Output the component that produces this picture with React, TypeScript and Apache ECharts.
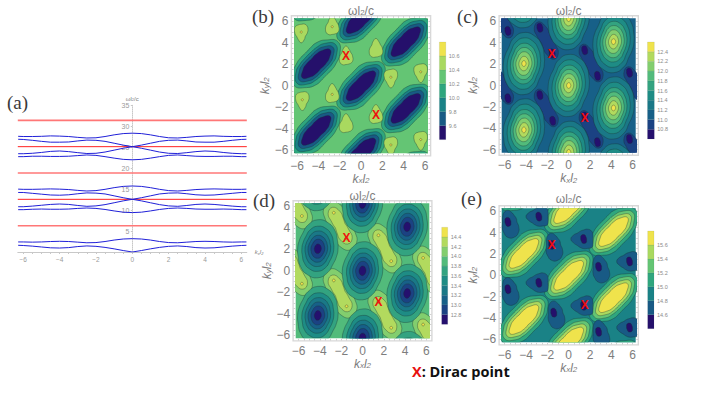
import React, { useEffect, useRef } from "react";
import * as echarts from "echarts";

// ---------- panel (a): dispersion curves ----------
const halfK = [0, 0.5, 1, 1.5, 2, 2.5, 3, 3.5, 4, 4.5, 5, 5.5, 6, 6.28];
const bandCurves = [
  [0, 0.35, 0.75, 1.1, 1.35, 1.45, 1.3, 1.05, 0.95, 1.0, 1.2, 1.4, 1.55, 1.6],
  [3.18, 3.1, 2.85, 2.5, 2.25, 2.2, 2.35, 2.5, 2.55, 2.5, 2.4, 2.35, 2.4, 2.4],
  [9.4, 9.5, 9.8, 10.15, 10.4, 10.5, 10.4, 10.25, 10.2, 10.2, 10.25, 10.2, 10.1, 10.1],
  [12.57, 12.2, 11.75, 11.3, 11.0, 10.9, 11.1, 11.35, 11.45, 11.35, 11.15, 10.95, 10.8, 10.8],
  [12.57, 12.95, 13.4, 13.85, 14.05, 14.1, 13.9, 13.65, 13.55, 13.6, 13.8, 14.0, 14.2, 14.2],
  [15.75, 15.65, 15.35, 14.95, 14.65, 14.55, 14.7, 14.9, 15.0, 15.05, 15.0, 14.95, 14.95, 15.0],
  [22, 22.1, 22.4, 22.75, 23.05, 23.15, 23, 22.85, 22.8, 22.8, 22.85, 22.85, 22.75, 22.75],
  [25.13, 24.75, 24.3, 23.85, 23.55, 23.5, 23.7, 23.95, 24.1, 24.0, 23.75, 23.55, 23.45, 23.45],
  [25.13, 25.5, 25.95, 26.4, 26.65, 26.7, 26.5, 26.25, 26.2, 26.2, 26.4, 26.65, 26.85, 26.9],
  [28.35, 28.25, 27.95, 27.55, 27.25, 27.2, 27.35, 27.55, 27.65, 27.7, 27.6, 27.55, 27.55, 27.6],
];
const redLevels = [6.28, 12.57, 18.85, 25.13, 31.4];
const redWidths = [1.6, 1, 1.6, 1, 1.6];
const redColors = ["#f77", "#f22", "#f77", "#f22", "#f77"];
const kTicks = [-6, -4, -2, 0, 2, 4, 6];
const kMinor = [-6, -5.5, -5, -4.5, -4, -3.5, -3, -2.5, -2, -1.5, -1, -0.5, 0, 0.5, 1, 1.5, 2, 2.5, 3, 3.5, 4, 4.5, 5, 5.5, 6];

// ---------- contour colour levels ----------
const levels7 = ["#25106b", "#185a85", "#1a8286", "#2fa67e", "#64c574", "#a9d95f", "#efe34c"];
const levels10 = ["#25106e", "#1b4283", "#176088", "#1a7887", "#1e8c85", "#33a380", "#52bb7b", "#82ce6e", "#b2da5e", "#efe34c"];

// ---------- shared feature positions (kx, ky) ----------
const blobCenters = [[0, 0], [0, 6.25], [0, -6.25], [-4.2, 2.05], [4.2, 4.1], [4.2, -2.1], [-4.2, -4.15], [-4.2, 8.3], [4.2, -8.35]];
const bandCenters = [[-6.3, 6.2], [-2.1, 4.2], [2.1, 2.1], [6.3, 0], [-6.3, 0], [-2.1, -2.1], [2.1, -4.1], [6.3, -6.2]];
const lobes = [[-5.7, 5.1], [-2.7, 5.4], [-1.55, 3], [1.5, 3.3], [2.7, 0.9], [5.7, 1.2], [-5.7, -1.2], [-2.7, -0.9], [-1.5, -3.3], [1.5, -2.9], [2.7, -5.3], [5.7, -5]];

// ---------- contour outlines: radii at 22.5 degree steps around a centre ----------
const lensOuter = [1.85, 2.4, 2.9, 2.4, 1.95, 1.55, 1.42, 1.55];
const lensMid = [1.5, 2.05, 2.55, 2.05, 1.5, 1.2, 1.12, 1.2];
const lensIn = [1.22, 1.7, 2.2, 1.7, 1.22, 0.95, 0.88, 0.95];
const lensCore = [0.9, 1.32, 1.85, 1.32, 0.9, 0.7, 0.62, 0.7];

const peakC3 = [1.92, 2.05, 2.4, 2.75, 2.9, 2.55, 2.05, 1.92];
const peakC4 = [1.55, 1.66, 1.92, 2.25, 2.4, 2.1, 1.68, 1.55];
const peakC5 = [1.25, 1.33, 1.52, 1.78, 1.9, 1.68, 1.36, 1.25];
const peakC6 = [1.0, 1.05, 1.2, 1.4, 1.5, 1.33, 1.08, 1.0];
const peakC7 = [0.75, 0.78, 0.88, 1.03, 1.1, 0.98, 0.8, 0.75];
const peakC8 = [0.47, 0.49, 0.54, 0.63, 0.68, 0.6, 0.5, 0.47];
const peakC9 = [0.2, 0.2, 0.22, 0.25, 0.27, 0.25, 0.21, 0.2];

const wellD5 = [1.9, 2.0, 2.32, 2.6, 2.7, 2.4, 2.02, 1.9];
const wellD4 = [1.5, 1.58, 1.82, 2.03, 2.1, 1.9, 1.6, 1.5];
const wellD3 = [1.2, 1.25, 1.42, 1.6, 1.65, 1.5, 1.27, 1.2];
const wellD2 = [0.92, 0.96, 1.07, 1.2, 1.25, 1.13, 0.97, 0.92];
const wellD1 = [0.65, 0.67, 0.75, 0.85, 0.88, 0.8, 0.68, 0.65];
const wellD0 = [0.33, 0.34, 0.38, 0.43, 0.45, 0.41, 0.35, 0.33];

const pocketC = [0.62, 0.52, 0.55, 0.75, 1.25, 1.9, 1.6, 0.9];
const dotC = [0.28, 0.28, 0.3, 0.38, 0.42, 0.42, 0.38, 0.3];
const ridgeOuter = [1.05, 0.9, 0.95, 1.3, 1.95, 2.45, 2.2, 1.5];
const ridgeInner = [0.6, 0.5, 0.55, 0.75, 1.3, 1.85, 1.6, 0.85];
const tinyDot = [0.13, 0.13, 0.13, 0.13, 0.13, 0.13, 0.13, 0.13];
const yellowDot = [0.1, 0.1, 0.1, 0.1, 0.1, 0.1, 0.1, 0.1];

const lumpUp = [0.62, 0.6, 0.6, 0.75, 1.0, 0.75, 0.55, 0.55, 0.6, 0.68, 0.78, 0.8, 0.72, 0.72, 0.75, 0.7];
const lumpDown = [0.6, 0.68, 0.78, 0.8, 0.72, 0.72, 0.75, 0.7, 0.62, 0.6, 0.6, 0.75, 1.0, 0.75, 0.55, 0.55];
const lumpUpAt = [[-2.7, 5.5], [-1.4, 2.7], [-2.7, -0.8], [1.4, -2.75], [1.4, 3.4], [-1.4, -3.6]];
const lumpDownAt = [[2.8, 0.8], [5.6, 1.3], [-5.6, 5], [-5.5, -1.3], [5.6, -5], [2.8, -5.5]];
const lumpDotsAt = [[-5.6, 5], [-2.7, 5.5], [-1.4, 2.7], [2.8, 0.8], [5.6, 1.3], [-5.5, -1.3], [-2.7, -0.8], [1.4, -2.75], [2.8, -5.5], [5.6, -5]];

const triSide = [0.85, 0.85, 0.85, 0.95, 1.1, 0.95, 0.7, 0.55, 0.5, 0.55, 0.75, 1.05, 1.45, 1.55, 1.4, 1.1];
const triFlat = [0.85, 0.95, 1.05, 1.0, 0.85, 0.8, 0.8, 1.0, 1.2, 1.0, 0.85, 0.85, 0.9, 0.95, 1.1, 0.95];
const triSideAt = [[-1.6, 2.85], [-5.7, 5], [-5.7, -1.3], [-1.4, -3.5], [2.8, 0.8], [2.8, -5.3]];
const triFlatAt = [[-2.8, 5.5], [-2.8, -0.7], [1.4, 3.4], [1.4, -2.85], [5.7, 1.3], [5.7, -4.9]];
const triDotsAt = [[-1.6, 2.85], [-5.7, 5], [-5.7, -1.3], [-1.4, -3.5], [2.8, 0.8], [2.8, -5.3], [-2.8, 5.5], [-2.8, -0.7], [1.4, 3.4], [1.4, -2.85], [5.7, 1.3], [5.7, -4.9]];

// ---------- Dirac points ----------
const diracB = [[-1.4, 2.75], [1.4, -2.75]];
const diracC = [[-1.6, 2.97], [1.5, -3.0]];
const diracD = [[-1.5, 3.03], [1.5, -2.9]];
const diracE = [[-1.6, 2.87], [1.5, -2.8]];

// ---------- colour-bar scales ----------
const barB = { min: 9.4, labels: [9.6, 9.8, 10.0, 10.2, 10.4, 10.6] };
const barC = { min: 10.6, labels: [10.8, 11.0, 11.2, 11.4, 11.6, 11.8, 12.0, 12.2, 12.4] };
const barD = { min: 12.6, labels: [12.8, 13.0, 13.2, 13.4, 13.6, 13.8, 14.0, 14.2, 14.4] };
const barE = { min: 14.4, labels: [14.6, 14.8, 15.0, 15.2, 15.4, 15.6] };

const ringOf = (h: number[]) => (h.length === 8 ? [...h, ...h] : h);
type Layer = [number[][], number, number[]];

const layersB: Layer[] = [
  [blobCenters, 3, lensOuter], [blobCenters, 2, lensMid], [blobCenters, 1, lensIn], [blobCenters, 0, lensCore],
  [lumpUpAt, 5, lumpUp], [lumpDownAt, 5, lumpDown], [lumpDotsAt, 6, yellowDot],
];
const layersC: Layer[] = [
  [bandCenters, 1, pocketC], [lobes, 0, dotC],
  [blobCenters, 3, peakC3], [blobCenters, 4, peakC4], [blobCenters, 5, peakC5], [blobCenters, 6, peakC6],
  [blobCenters, 7, peakC7], [blobCenters, 8, peakC8], [blobCenters, 9, peakC9],
];
const layersD: Layer[] = [
  [bandCenters, 7, ridgeOuter], [bandCenters, 8, ridgeInner], [lobes, 9, tinyDot],
  [blobCenters, 5, wellD5], [blobCenters, 4, wellD4], [blobCenters, 3, wellD3], [blobCenters, 2, wellD2],
  [blobCenters, 1, wellD1], [blobCenters, 0, wellD0],
];
const layersE: Layer[] = [
  [blobCenters, 3, lensOuter], [blobCenters, 4, lensMid], [blobCenters, 5, lensIn], [blobCenters, 6, lensCore],
  [triSideAt, 1, triSide], [triFlatAt, 1, triFlat], [triDotsAt, 0, dotC],
];

const contourLine = "rgba(25,50,50,0.5)";
const greyText = "#7d7d7d";
const sans = "Liberation Sans";

const richK = (big: number, small: number) => ({
  i: { fontFamily: sans, fontStyle: "italic", fontSize: big, color: greyText, lineHeight: big, verticalAlign: "top" },
  s: { fontFamily: sans, fontStyle: "italic", fontSize: small, color: greyText, lineHeight: big, verticalAlign: "bottom", height: small },
  u: { fontFamily: sans, fontSize: small, color: greyText, lineHeight: big, verticalAlign: "bottom", height: small },
  o: { fontFamily: sans, fontSize: big, color: greyText, lineHeight: big, verticalAlign: "top" },
});
const minusFmt = (v: number) => (v < 0 ? "\u2212" + -v : String(v));

function buildOption() {
  const grid: any[] = [];
  const xAxis: any[] = [];
  const yAxis: any[] = [];
  const series: any[] = [];
  const graphic: any[] = [];

  // panel (a)
  grid.push({ left: 17.8, top: 105.3, width: 229, height: 146.7 });
  xAxis.push({
    gridIndex: 0, type: "value", min: -6.3, max: 6.3,
    name: "{i|k}{s|x}{i|l}{s|2}", nameLocation: "end", nameGap: 8,
    nameTextStyle: { rich: richK(6, 4) },
    axisLine: { show: true, onZero: false, lineStyle: { color: "#c8c8c8", width: 1 } },
    axisTick: { show: true, length: 2, lineStyle: { color: "#c8c8c8" }, customValues: kMinor },
    axisLabel: { color: "#9a9a9a", fontSize: 6.5, fontFamily: sans, margin: 4, customValues: kTicks, formatter: minusFmt },
    splitLine: { show: false },
  });
  yAxis.push({
    gridIndex: 0, type: "value", min: 0, max: 35, interval: 5,
    name: "{o|\u03c9l}{u|2}{o|/c}", nameLocation: "end", nameGap: 3,
    nameTextStyle: { rich: richK(6, 4) },
    axisLine: { show: true, onZero: true, lineStyle: { color: "#c8c8c8", width: 1, type: "dotted" } },
    axisTick: { show: true, length: 1.5, lineStyle: { color: "#c8c8c8" } },
    axisLabel: { color: "#9a9a9a", fontSize: 7, fontFamily: sans, margin: -111.5, showMaxLabel: true, showMinLabel: false },
    splitLine: { show: false },
  });
  redLevels.forEach((v, i) =>
    series.push({
      type: "line", xAxisIndex: 0, yAxisIndex: 0, showSymbol: false, silent: true,
      data: [[-6.3, v], [6.3, v]],
      lineStyle: { color: redColors[i], width: redWidths[i] },
    }),
  );
  bandCurves.forEach((curve) => {
    const data: number[][] = [];
    for (let i = halfK.length - 1; i > 0; i--) data.push([-halfK[i], curve[i]]);
    for (let i = 0; i < halfK.length; i++) data.push([halfK[i], curve[i]]);
    series.push({
      type: "line", xAxisIndex: 0, yAxisIndex: 0, showSymbol: false, silent: true,
      data, lineStyle: { color: "#2020d8", width: 1 },
    });
  });

  // contour panels
  const panels = [
    { left: 294, top: 18.3, w: 134, h: 135, palette: levels7, bg: 4, layers: layersB, dirac: diracB, bar: barB, barRect: [439.4, 42, 6.4, 97.6], titleGap: -1 },
    { left: 501.7, top: 18.3, w: 134, h: 134.4, palette: levels10, bg: 2, layers: layersC, dirac: diracC, bar: barC, barRect: [647.5, 42, 6.8, 97], titleGap: -1 },
    { left: 295.7, top: 203.3, w: 133.6, h: 135, palette: levels10, bg: 6, layers: layersD, dirac: diracD, bar: barD, barRect: [441.7, 227.3, 6, 97], titleGap: -1 },
    { left: 501.7, top: 208.3, w: 134, h: 134, palette: levels7, bg: 2, layers: layersE, dirac: diracE, bar: barE, barRect: [647.7, 231, 6.3, 97.7], titleGap: 1 },
  ];

  panels.forEach((p) => {
    const gi = grid.length;
    grid.push({ left: p.left, top: p.top, width: p.w, height: p.h, show: true, backgroundColor: p.palette[p.bg], borderWidth: 0 });
    const xi = xAxis.length;
    const yi = yAxis.length;
    const tick = { show: true, inside: true, length: 2, lineStyle: { color: "#bdbdbd", width: 0.7 }, customValues: kMinor };
    xAxis.push({
      gridIndex: gi, type: "value", min: -6.28, max: 6.28, position: "bottom", offset: 2.5,
      name: "{i|k}{s|x}{i|l}{s|2}", nameLocation: "middle", nameGap: 16,
      nameTextStyle: { rich: richK(12, 8) },
      axisLine: { show: false, onZero: false }, axisTick: tick, splitLine: { show: false },
      axisLabel: { color: greyText, fontSize: 12, fontFamily: sans, margin: 4, customValues: kTicks, formatter: minusFmt, hideOverlap: false },
    });
    xAxis.push({
      gridIndex: gi, type: "value", min: -6.28, max: 6.28, position: "top", offset: 2.5,
      name: "{o|\u03c9l}{u|2}{o|/c}", nameLocation: "middle", nameGap: p.titleGap,
      nameTextStyle: { rich: richK(12, 8) },
      axisLine: { show: false, onZero: false }, axisTick: tick, splitLine: { show: false },
      axisLabel: { show: false },
    });
    yAxis.push({
      gridIndex: gi, type: "value", min: -6.28, max: 6.28, position: "left", offset: 2.5,
      name: "{i|k}{s|y}{i|l}{s|2}", nameLocation: "middle", nameGap: 19, nameRotate: 90,
      nameTextStyle: { rich: richK(12, 8) },
      axisLine: { show: false, onZero: false }, axisTick: tick, splitLine: { show: false },
      axisLabel: { color: greyText, fontSize: 12, fontFamily: sans, margin: 3, customValues: kTicks, formatter: minusFmt, hideOverlap: false },
    });
    yAxis.push({
      gridIndex: gi, type: "value", min: -6.28, max: 6.28, position: "right", offset: 2.5,
      axisLine: { show: false, onZero: false }, axisTick: tick, splitLine: { show: false }, axisLabel: { show: false },
    });

    // frame around the padded plot
    graphic.push({
      type: "rect", silent: true, z: 1,
      shape: { x: p.left - 2.6, y: p.top - 2.6, width: p.w + 5.2, height: p.h + 5.2 },
      style: { fill: "none", stroke: "#d8d8d8", lineWidth: 1.4 },
    });

    const items = p.layers.flatMap(([centers, color, radii]) =>
      centers.map((c) => ({ value: [c[0], c[1], color], radii: ringOf(radii) })),
    );
    series.push({
      type: "custom", xAxisIndex: xi, yAxisIndex: yi, clip: true, silent: true,
      encode: { x: 0, y: 1 },
      data: items.map((d) => ({ value: d.value })),
      renderItem: (params: any, api: any) => {
        const cx = api.value(0);
        const cy = api.value(1);
        const radii = items[params.dataIndex].radii;
        const points = radii.map((r: number, i: number) => {
          const a = (i * Math.PI) / 8;
          return api.coord([cx + r * Math.cos(a), cy + r * Math.sin(a)]);
        });
        return {
          type: "polygon",
          shape: { points, smooth: 0.5 },
          style: { fill: p.palette[api.value(2)], stroke: contourLine, lineWidth: 0.7 },
        };
      },
    });
    series.push({
      type: "custom", xAxisIndex: xi, yAxisIndex: yi, clip: true, silent: true, z: 5,
      encode: { x: 0, y: 1 },
      data: p.dirac,
      renderItem: (_params: any, api: any) => {
        const pt = api.coord([api.value(0), api.value(1)]);
        return {
          type: "text", x: pt[0], y: pt[1],
          style: { text: "X", fill: "#f01010", font: `bold 12px "${sans}"`, align: "center", verticalAlign: "middle" },
        };
      },
    });

    // colour bar
    const bi = grid.length;
    const [bx, by, bw, bh] = p.barRect;
    grid.push({ left: bx, top: by, width: bw, height: bh });
    const step = 0.2;
    const barMax = p.bar.min + p.palette.length * step;
    xAxis.push({ gridIndex: bi, type: "value", min: 0, max: 1, show: false });
    yAxis.push({
      gridIndex: bi, type: "value", min: p.bar.min, max: barMax, position: "right",
      axisLine: { show: false, onZero: false }, axisTick: { show: false }, splitLine: { show: false },
      axisLabel: {
        color: "#8a8a8a", fontSize: 5.5, fontFamily: sans, margin: 3,
        customValues: p.bar.labels, formatter: (v: number) => v.toFixed(1),
      },
    });
    series.push({
      type: "custom", xAxisIndex: xAxis.length - 1, yAxisIndex: yAxis.length - 1, silent: true,
      encode: { y: 1 },
      data: p.palette.map((_c, i) => [i, +(p.bar.min + i * step).toFixed(1)]),
      renderItem: (_params: any, api: any) => {
        const i = api.value(0);
        const low = api.value(1);
        const a = api.coord([0, low + step]);
        const b = api.coord([1, low]);
        return {
          type: "rect",
          shape: { x: a[0], y: a[1], width: b[0] - a[0], height: b[1] - a[1] },
          style: { fill: p.palette[i], stroke: "rgba(60,80,80,0.25)", lineWidth: 0.4 },
        };
      },
    });
  });

  // panel letters
  const letters: [string, number, number][] = [
    ["(a)", 7, 102], ["(b)", 252, 16], ["(c)", 457, 16], ["(d)", 253, 200], ["(e)", 461, 198],
  ];
  letters.forEach(([t, x, y]) =>
    graphic.push({
      type: "text", x, y, silent: true,
      style: { text: t, fill: "#3a3a3a", font: '19px "Liberation Serif"', verticalAlign: "middle", align: "left" },
    }),
  );
  graphic.push({
    type: "text", x: 412, y: 371, silent: true,
    style: {
      text: "{r|X}{b|: Dirac point}", verticalAlign: "middle", align: "left",
      rich: {
        r: { fill: "#e81010", fontFamily: "Open Sans", fontWeight: "bold", fontSize: 14.5 },
        b: { fill: "#111", fontFamily: "Open Sans", fontWeight: "bold", fontSize: 14.5 },
      },
    },
  });

  return { animation: false, backgroundColor: "#fff", grid, xAxis, yAxis, series, graphic };
}

export default function App() {
  const ref = useRef<HTMLDivElement>(null);
  useEffect(() => {
    document.body.style.margin = "0";
    const chart = echarts.init(ref.current!, undefined, { renderer: "svg" });
    chart.setOption(buildOption() as any);
    return () => chart.dispose();
  }, []);
  return <div ref={ref} style={{ width: 704, height: 397 }} />;
}
